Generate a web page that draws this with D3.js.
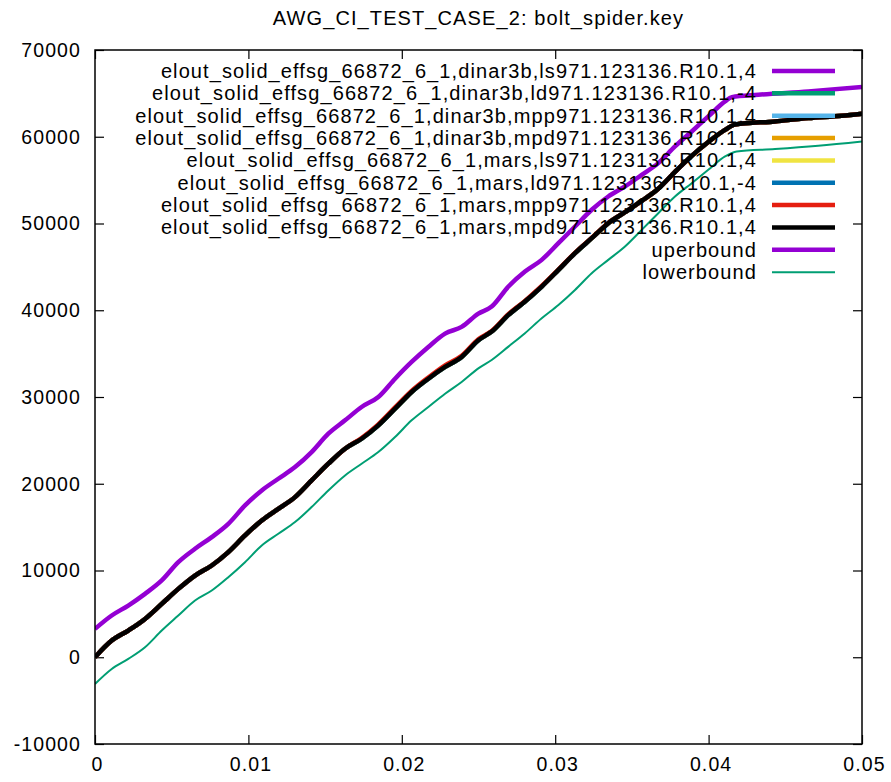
<!DOCTYPE html>
<html>
<head>
<meta charset="utf-8">
<script src="https://cdn.jsdelivr.net/npm/d3@7/dist/d3.min.js"></script>
<style>
  html, body { margin: 0; padding: 0; background: #fff; }
  svg { display: block; }
  text { font-family: "Liberation Sans", Arial, sans-serif; fill: #000; }
</style>
</head>
<body>
<svg id="chart" width="891" height="782"></svg>
<script>
// ---- data ----
const titleText = "AWG_CI_TEST_CASE_2: bolt_spider.key";
const xTicks = [0, 0.01, 0.02, 0.03, 0.04, 0.05];
const xTickLabels = ["0", "0.01", "0.02", "0.03", "0.04", "0.05"];
const yTicks = [-10000, 0, 10000, 20000, 30000, 40000, 50000, 60000, 70000];
const yTickLabels = ["-10000", "0", "10000", "20000", "30000", "40000", "50000", "60000", "70000"];

const seriesNames = [
  "elout_solid_effsg_66872_6_1,dinar3b,ls971.123136.R10.1,4",
  "elout_solid_effsg_66872_6_1,dinar3b,ld971.123136.R10.1,-4",
  "elout_solid_effsg_66872_6_1,dinar3b,mpp971.123136.R10.1,4",
  "elout_solid_effsg_66872_6_1,dinar3b,mpd971.123136.R10.1,4",
  "elout_solid_effsg_66872_6_1,mars,ls971.123136.R10.1,4",
  "elout_solid_effsg_66872_6_1,mars,ld971.123136.R10.1,-4",
  "elout_solid_effsg_66872_6_1,mars,mpp971.123136.R10.1,4",
  "elout_solid_effsg_66872_6_1,mars,mpd971.123136.R10.1,4",
  "uperbound",
  "lowerbound"
];
const seriesColors = ["#9400d3", "#009e73", "#56b4e9", "#e69f00", "#f0e442", "#0072b2", "#e51e10", "#000000", "#9400d3", "#009e73"];

// main response (all eight runs are practically identical)
const xMain = [0, 0.00109, 0.00217, 0.00326, 0.00435, 0.00543, 0.00652, 0.00761, 0.00869, 0.00978,
  0.01087, 0.01195, 0.01304, 0.01412, 0.01521, 0.01630, 0.01738, 0.01847, 0.01956, 0.02064,
  0.02173, 0.02282, 0.02390, 0.02499, 0.02586, 0.02695, 0.02803, 0.02912, 0.03021, 0.03129,
  0.03238, 0.03346, 0.03455, 0.03564, 0.03672, 0.03781, 0.03890, 0.03998, 0.04107, 0.04172,
  0.04433, 0.04650, 0.04868, 0.05];
const yMain = [0, 1920, 3080, 4420, 6150, 7880, 9420, 10580, 12120, 14040,
  15770, 17110, 18460, 20380, 22310, 24040, 25190, 26730, 28650, 30580,
  32110, 33460, 34610, 36540, 37540, 39460, 41000, 42730, 44650, 46580,
  48310, 50040, 51300, 52600, 54000, 55950, 57800, 59400, 60800, 61400,
  61770, 62150, 62420, 62650];
// red run peeks out slightly above the black one in the middle
const yMarsMpp = [0, 1920, 3080, 4420, 6150, 7880, 9420, 10580, 12120, 14040,
  15770, 17110, 18460, 20380, 22310, 24040, 25280, 26850, 28800, 30700,
  32250, 33650, 34750, 36650, 37600, 39550, 41080, 42800, 44700, 46620,
  48340, 50060, 51300, 52600, 54000, 55950, 57800, 59400, 60800, 61400,
  61770, 62150, 62420, 62650];

const xUpper = [0, 0.00109, 0.00217, 0.00326, 0.00435, 0.00543, 0.00652, 0.00761, 0.00869, 0.00978,
  0.01087, 0.01195, 0.01304, 0.01412, 0.01521, 0.01630, 0.01738, 0.01847, 0.01956, 0.02064,
  0.02173, 0.02282, 0.02390, 0.02499, 0.02586, 0.02695, 0.02803, 0.02912, 0.03021, 0.03129,
  0.03238, 0.03346, 0.03455, 0.03564, 0.03672, 0.03781, 0.03890, 0.03998, 0.04107, 0.04151,
  0.04324, 0.04650, 0.05];
const yUpper = [3270, 4810, 5960, 7310, 8850, 10960, 12500, 13850, 15380, 17500,
  19230, 20580, 21920, 23650, 25770, 27310, 28850, 30000, 32110, 34040,
  35770, 37310, 38080, 39610, 40420, 42730, 44460, 45810, 47730, 49650,
  51580, 53110, 54270, 55610, 56960, 58880, 60610, 62340, 64070, 64570,
  64840, 65230, 65750];

const xLower = [0, 0.00109, 0.00217, 0.00326, 0.00435, 0.00543, 0.00652, 0.00761, 0.00869, 0.00978,
  0.01087, 0.01195, 0.01304, 0.01412, 0.01521, 0.01630, 0.01738, 0.01847, 0.01956, 0.02064,
  0.02173, 0.02282, 0.02390, 0.02499, 0.02586, 0.02695, 0.02803, 0.02912, 0.03021, 0.03129,
  0.03238, 0.03346, 0.03455, 0.03564, 0.03672, 0.03781, 0.03890, 0.03998, 0.04107, 0.04183,
  0.04433, 0.04715, 0.05];
const yLower = [-3080, -1350, -190, 1150, 3080, 4810, 6540, 7690, 9230, 10960,
  12880, 14230, 15580, 17310, 19230, 20960, 22310, 23650, 25380, 27310,
  28850, 30380, 31730, 33300, 34270, 35810, 37350, 39080, 40610, 42340,
  44270, 45810, 47350, 49270, 51190, 53110, 54650, 56190, 57730, 58310,
  58580, 58960, 59460];

// ---- build ----
const seriesData = [
  [xMain, yMain], [xMain, yMain], [xMain, yMain], [xMain, yMain],
  [xMain, yMain], [xMain, yMain], [xMain, yMarsMpp], [xMain, yMain],
  [xUpper, yUpper], [xLower, yLower]
];
const seriesWidths = [4.5, 4.5, 4.5, 4.5, 4.5, 4.5, 4.5, 4.5, 4.5, 2];

const svg = d3.select("#chart");
const L = 95, R = 862, T = 50, B = 744;

const x = d3.scaleLinear().domain([0, 0.05]).range([L, R]);
const y = d3.scaleLinear().domain([-10000, 70000]).range([B, T]);

svg.append("defs").append("clipPath").attr("id", "clip")
  .append("rect").attr("x", L).attr("y", T).attr("width", R - L).attr("height", B - T);

// title
svg.append("text").attr("x", (L + R) / 2).attr("y", 25)
  .attr("text-anchor", "middle").style("font-size", "20px").style("letter-spacing", "1.1px")
  .text(titleText);

// axes (ticks inward, mirrored)
const tickLen = 9;
const axB = d3.axisBottom(x).tickValues(xTicks).tickFormat((d, i) => xTickLabels[i]).tickSize(-tickLen).tickPadding(16);
const axT = d3.axisTop(x).tickValues(xTicks).tickFormat("").tickSize(-tickLen);
const axL = d3.axisLeft(y).tickValues(yTicks).tickFormat((d, i) => yTickLabels[i]).tickSize(-tickLen).tickPadding(14);
const axR = d3.axisRight(y).tickValues(yTicks).tickFormat("").tickSize(-tickLen);

function styleAxis(g) {
  g.select(".domain").remove();
  g.selectAll("line").attr("stroke", "#000").attr("stroke-width", 1.2);
  g.selectAll("text").style("font-size", "19.5px").style("letter-spacing", "1.1px")
    .attr("font-family", null).attr("fill", "#000");
}
svg.append("g").attr("transform", `translate(0,${B})`).call(axB).call(styleAxis)
  .selectAll("text").attr("dx", "2px").attr("dy", "0.55em");
svg.append("g").attr("transform", `translate(0,${T})`).call(axT).call(styleAxis);
svg.append("g").attr("transform", `translate(${L},0)`).call(axL).call(styleAxis)
  .selectAll("text").attr("dx", "0px");
svg.append("g").attr("transform", `translate(${R},0)`).call(axR).call(styleAxis);

// lines
const line = d3.line().x(d => x(d[0])).y(d => y(d[1])).curve(d3.curveMonotoneX);
const plot = svg.append("g").attr("clip-path", "url(#clip)");
seriesData.forEach((s, i) => {
  const pts = s[0].map((xv, j) => [xv, s[1][j]]);
  plot.append("path").datum(pts)
    .attr("d", line).attr("fill", "none")
    .attr("stroke", seriesColors[i]).attr("stroke-width", seriesWidths[i])
    .attr("stroke-linejoin", "round");
});

// legend
const legX = 757, legY0 = 71, legDy = 22.35;
const leg = svg.append("g");
seriesNames.forEach((name, i) => {
  const yy = legY0 + i * legDy;
  leg.append("text").attr("x", legX).attr("y", yy).attr("dy", "0.35em")
    .attr("text-anchor", "end").style("font-size", "20px").style("letter-spacing", "1.1px")
    .text(name);
  leg.append("line").attr("x1", 772).attr("x2", 835).attr("y1", yy).attr("y2", yy)
    .attr("stroke", seriesColors[i]).attr("stroke-width", seriesWidths[i]);
});

// border
svg.append("rect").attr("x", L).attr("y", T).attr("width", R - L).attr("height", B - T)
  .attr("fill", "none").attr("stroke", "#000").attr("stroke-width", 1.5);
</script>
</body>
</html>
